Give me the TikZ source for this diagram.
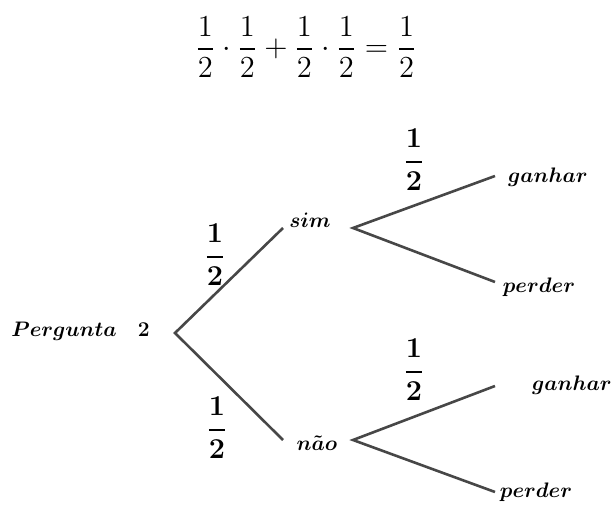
\documentclass[tikz,border=0pt]{standalone}
\usepackage{amsmath}
\usepackage{bm}
\begin{document}
\begin{tikzpicture}[x=0.5pt,y=-0.5pt,
  edge/.style={draw=black!72, line width=1.3pt},
  lbl/.style={inner sep=0pt, font=\large, scale=0.875},
  frac/.style={inner sep=0pt, font=\Large}]
\useasboundingbox (0,0) rectangle (614,506);
\node[inner sep=0pt, font=\Large, scale=1.06] (eq) at (306,47)
  {$\displaystyle \frac{1}{2}\cdot\frac{1}{2}+\frac{1}{2}\cdot\frac{1}{2}=\frac{1}{2}$};
\node[lbl, anchor=base west] (q) at (11,337) {$\bm{Pergunta}\quad\bm{2}$};
\coordinate (r) at (175,333);
\coordinate (a1) at (283,228);
\coordinate (b1) at (283,440);
\node[lbl, anchor=base] (sim) at (310,228) {$\bm{sim}$};
\node[lbl, anchor=base] (nao) at (317,451) {$\bm{n\tilde{a}o}$};
\coordinate (s) at (353,228);
\coordinate (n) at (353,440);
\coordinate (s1) at (495,176);
\coordinate (s2) at (495,282);
\coordinate (n1) at (495,386);
\coordinate (n2) at (495,492);
\node[lbl, anchor=base] (g1) at (548,183) {$\bm{ganhar}$};
\node[lbl, anchor=base] (p1) at (539,293) {$\bm{perder}$};
\node[lbl, anchor=base] (g2) at (572,391) {$\bm{ganhar}$};
\node[lbl, anchor=base] (p2) at (536,497) {$\bm{perder}$};
\node[frac] (f1) at (215,255) {$\displaystyle\bm{\frac{1}{2}}$};
\node[frac] (f2) at (217,428) {$\displaystyle\bm{\frac{1}{2}}$};
\node[frac] (f3) at (414,160) {$\displaystyle\bm{\frac{1}{2}}$};
\node[frac] (f4) at (414,370) {$\displaystyle\bm{\frac{1}{2}}$};
\draw[edge] (a1) -- (r) -- (b1);
\draw[edge] (s1) -- (s) -- (s2);
\draw[edge] (n1) -- (n) -- (n2);
\end{tikzpicture}
\end{document}
